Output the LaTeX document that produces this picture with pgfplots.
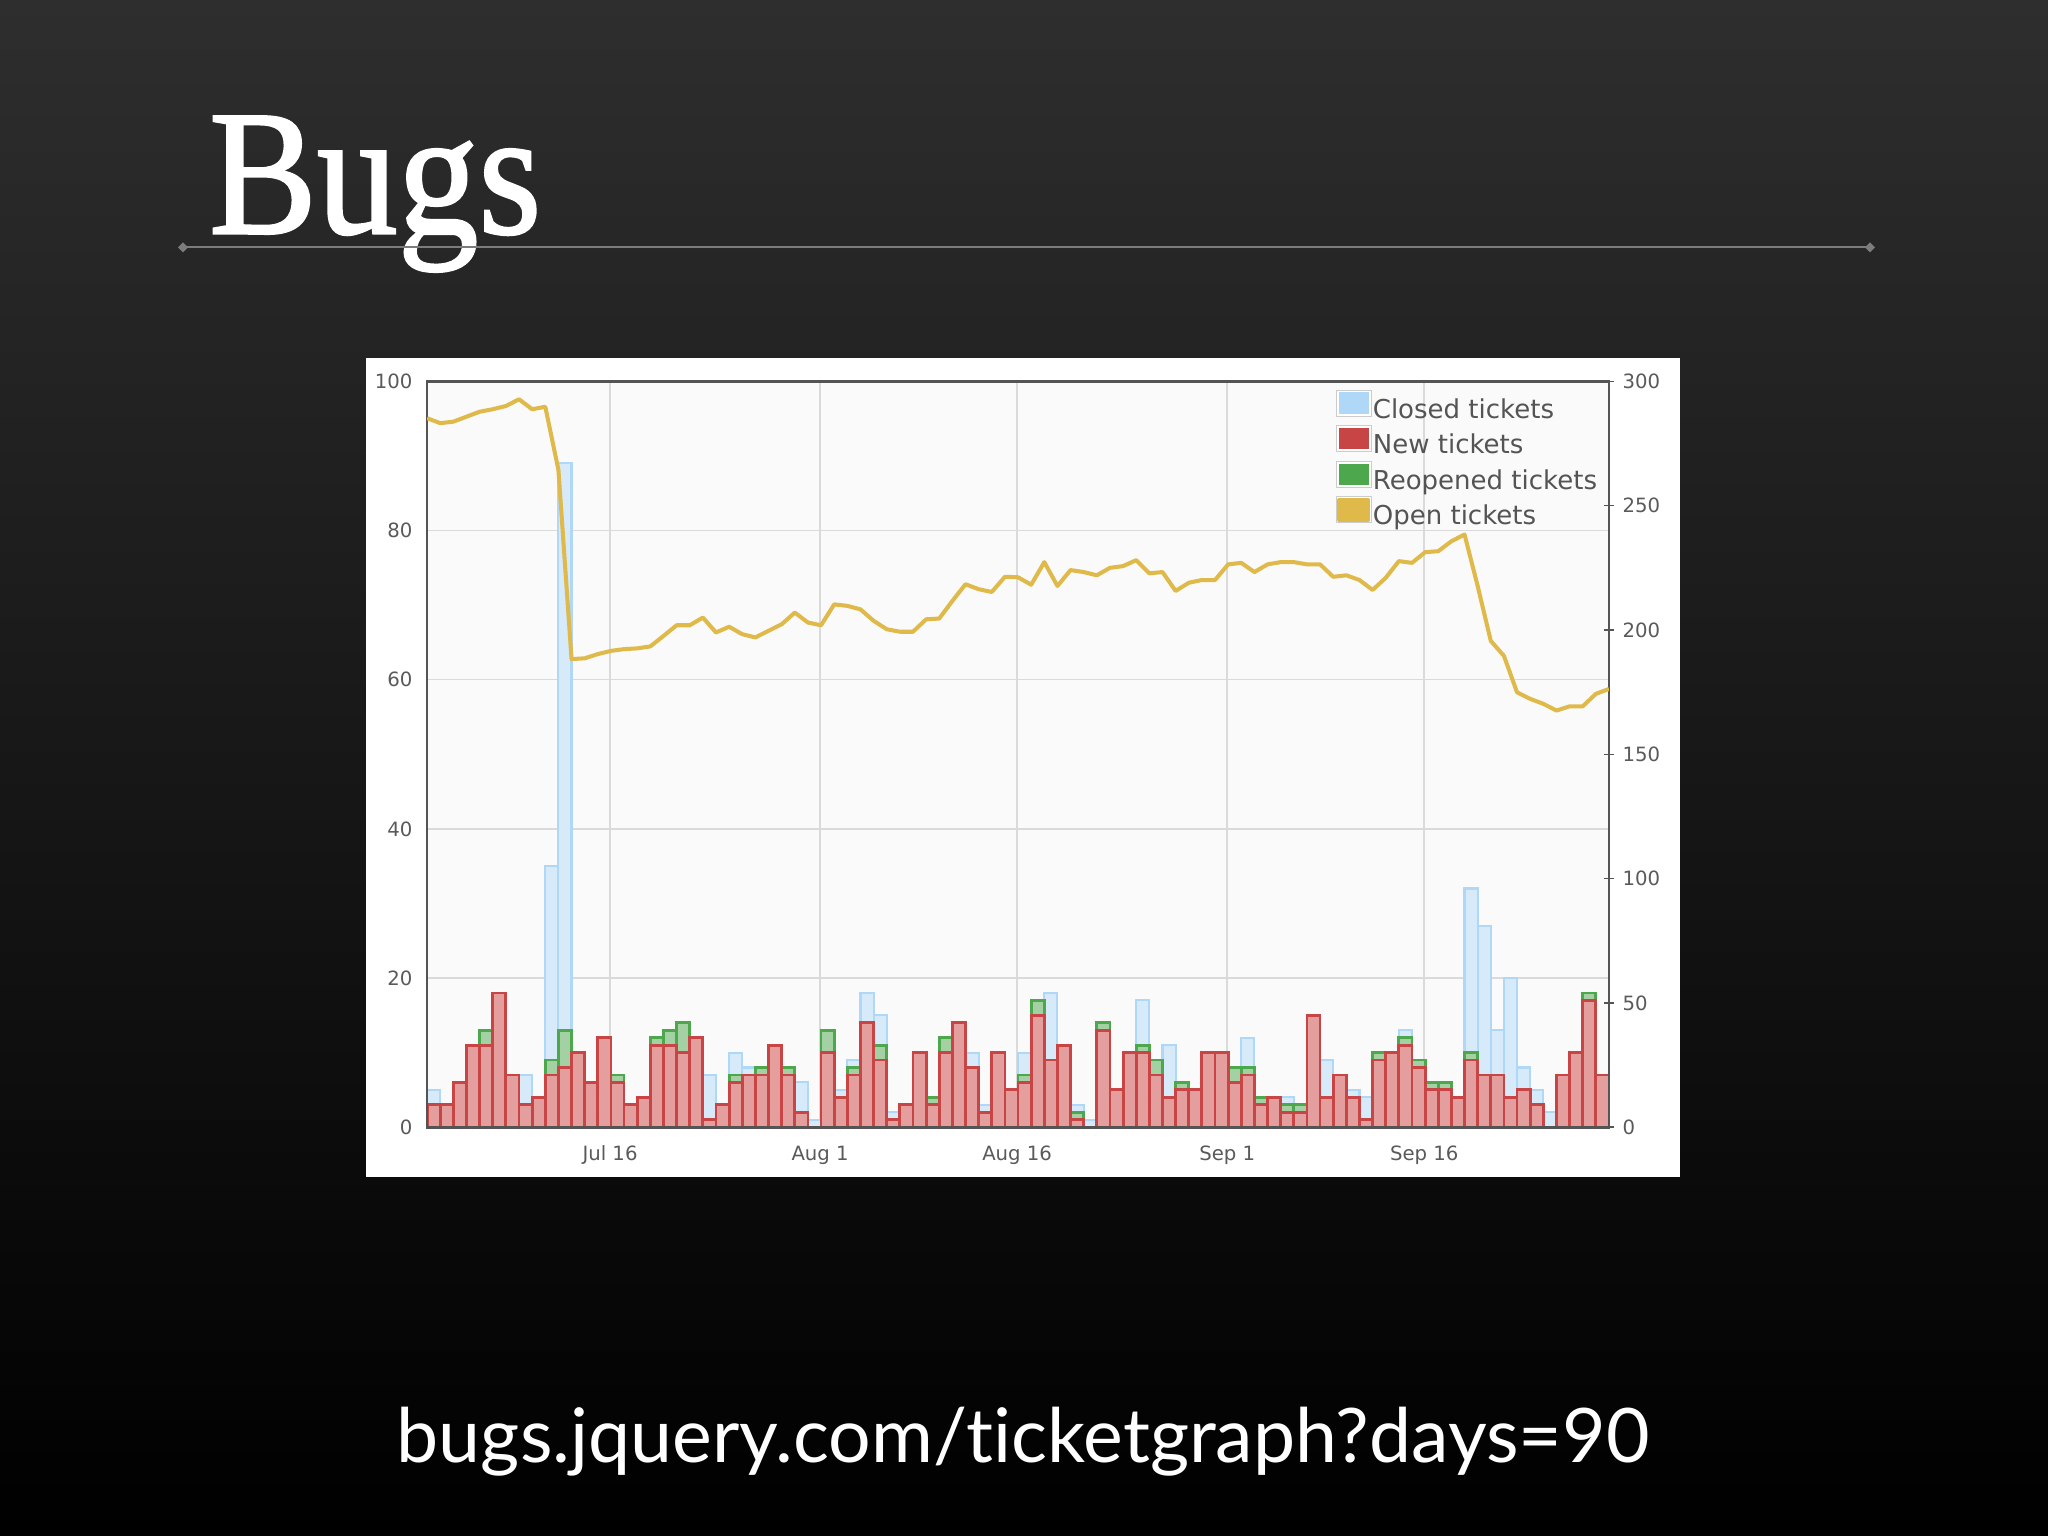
\documentclass[border=0pt]{standalone}
\usepackage{pgfplots}
\usepackage{pgfplotstable}
\pgfplotsset{compat=1.18}
\usepackage{fontspec}
\newfontfamily\tickfont{DejaVu Sans}
\newfontfamily\titlefont[FakeBold=1.4]{Liberation Serif}
\newfontfamily\urlfont[Ligatures={NoCommon}]{Lato}

\definecolor{bgtop}{HTML}{2E2E2E}
\definecolor{rulegray}{HTML}{7C7C7C}
\definecolor{plotbg}{HTML}{FAFAFA}
\definecolor{gridc}{HTML}{DADADA}
\definecolor{framec}{HTML}{545454}
\definecolor{tickc}{HTML}{5A5A5A}
\definecolor{closedc}{HTML}{AFD8F8}
\definecolor{closedfill}{HTML}{D6EAFA}
\definecolor{newc}{HTML}{C84545}
\definecolor{newfill}{HTML}{E49E9E}
\definecolor{reopc}{HTML}{4DA74D}
\definecolor{reopfill}{HTML}{A3D1A3}
\definecolor{openc}{HTML}{DFBA4A}
\definecolor{swatchb}{HTML}{CCCCCC}

% daily tickets: closed, new, new+reopened (stacked top)
\pgfplotstableread{
x    closed new top
0.5  5  3  3
1.5  2  3  3
2.5  4  6  6
3.5  9  11 11
4.5  6  11 13
5.5  10 18 18
6.5  4  7  7
7.5  7  3  3
8.5  3  4  4
9.5  35 7  9
10.5 89 8  13
11.5 5  10 10
12.5 5  6  6
13.5 8  12 12
14.5 4  6  7
15.5 2  3  3
16.5 3  4  4
17.5 7  11 12
18.5 8  11 13
19.5 9  10 14
20.5 9  12 12
21.5 7  1  1
22.5 2  3  3
23.5 10 6  7
24.5 8  7  7
25.5 6  7  8
26.5 8  11 11
27.5 5  7  8
28.5 6  2  2
29.5 1  0  0
30.5 5  10 13
31.5 5  4  4
32.5 9  7  8
33.5 18 14 14
34.5 15 9  11
35.5 2  1  1
36.5 2  3  3
37.5 5  10 10
38.5 2  3  4
39.5 5  10 12
40.5 7  14 14
41.5 10 8  8
42.5 3  2  2
43.5 6  10 10
44.5 4  5  5
45.5 10 6  7
46.5 9  15 17
47.5 18 9  9
48.5 6  11 11
49.5 3  1  2
50.5 1  0  0
51.5 8  13 14
52.5 3  5  5
53.5 6  10 10
54.5 17 10 11
55.5 5  7  9
56.5 11 4  4
57.5 3  5  6
58.5 3  5  5
59.5 4  10 10
60.5 4  10 10
61.5 5  6  8
62.5 12 7  8
63.5 2  3  4
64.5 3  4  4
65.5 4  2  3
66.5 2  2  3
67.5 7  15 15
68.5 9  4  4
69.5 6  7  7
70.5 5  4  4
71.5 4  1  1
72.5 4  9  10
73.5 5  10 10
74.5 13 11 12
75.5 5  8  9
76.5 3  5  6
77.5 3  5  6
78.5 3  4  4
79.5 32 9  10
80.5 27 7  7
81.5 13 7  7
82.5 20 4  4
83.5 8  5  5
84.5 5  3  3
85.5 2  0  0
86.5 4  7  7
87.5 5  10 10
88.5 13 17 18
89.5 5  7  7
}\bars

% open tickets (right axis)
\pgfplotstableread{
t  open
0  285.2
1  283.2
2  283.8
3  285.8
4  287.8
5  288.8
6  290.1
7  292.8
8  288.8
9  289.8
10 264.4
11 188.3
12 188.6
13 190.3
14 191.6
15 192.3
16 192.6
17 193.4
18 197.6
19 201.9
20 201.9
21 205.0
22 199.0
23 201.3
24 198.3
25 197.0
26 199.7
27 202.3
28 207.0
29 203.0
30 201.9
31 210.3
32 209.7
33 208.3
34 203.7
35 200.3
36 199.3
37 199.3
38 204.3
39 204.6
40 211.7
41 218.4
42 216.4
43 215.3
44 221.4
45 221.2
46 218.2
47 227.3
48 217.7
49 224.1
50 223.3
51 222.0
52 225.0
53 225.7
54 228.1
55 222.8
56 223.3
57 215.7
58 219.0
59 220.1
60 220.1
61 226.4
62 227.0
63 223.3
64 226.4
65 227.3
66 227.3
67 226.4
68 226.4
69 221.4
70 222.0
71 220.1
72 216.1
73 221.0
74 227.7
75 227.0
76 231.3
77 231.7
78 235.7
79 238.4
80 217.7
81 195.6
82 189.6
83 174.9
84 172.3
85 170.3
86 167.6
87 169.3
88 169.3
89 174.3
90 176.3
}\openT

\pgfplotsset{
  slideaxis/.style={
    at={(4.271cm,4.088cm)}, anchor=south west,
    scale only axis, width=11.819cm, height=7.458cm,
    xmin=0, xmax=90, ymin=0,
    ticklabel style={font=\tickfont\fontsize{5.6}{6}\selectfont, text=tickc},
    /pgf/number format/assume math mode=true,
  },
  swatch/.style={legend image code/.code={
    \draw[swatchb, fill=white, line width=0.3pt] (0cm,-0.05cm) rectangle (0.35cm,0.21cm);
    \fill[#1] (0.03cm,-0.02cm) rectangle (0.32cm,0.18cm);}},
}

\begin{document}
\begin{tikzpicture}
\shade[top color=bgtop, bottom color=black] (0,0) rectangle (20.48,15.36);

% title and rule
\node[anchor=base west, inner sep=0pt, text=white, xscale=0.905,
      font=\titlefont\fontsize{50.8}{52}\selectfont] at (2.085,13.027) {Bugs};
\draw[rulegray, line width=0.45pt] (1.83,12.887) -- (18.70,12.887);
\fill[rulegray] (1.83,12.887) +(-0.05,0) -- +(0,0.05) -- +(0.05,0) -- +(0,-0.05) -- cycle;
\fill[rulegray] (18.70,12.887) +(-0.05,0) -- +(0,0.05) -- +(0.05,0) -- +(0,-0.05) -- cycle;

% chart panel
\fill[white] (3.66,3.59) rectangle (16.80,11.78);

\begin{axis}[slideaxis,
    ymax=100,
    axis background/.style={fill=plotbg},
    axis line style={draw=none},
    xtick={13.93,29.93,44.93,60.93,75.93},
    xticklabels={Jul 16,Aug 1,Aug 16,Sep 1,Sep 16},
    ytick={0,20,...,100},
    major tick length=0pt,
    grid=major, major grid style={gridc, line width=0.45pt},
    xticklabel style={anchor=north, inner sep=0pt, yshift=-0.18cm},
    yticklabel style={anchor=east, inner sep=0pt, xshift=-0.14cm},
]
\addplot[ybar, bar width=1, bar shift=0pt, draw=closedc, fill=closedfill, line width=0.6pt]
  table[x=x, y=closed]{\bars};
\addplot[ybar, bar width=1, bar shift=0pt, draw=reopc, fill=reopfill, line width=0.8pt]
  table[x=x, y=top]{\bars};
\addplot[ybar, bar width=1, bar shift=0pt, draw=newc, fill=newfill, line width=0.8pt]
  table[x=x, y=new]{\bars};
\end{axis}

\begin{axis}[slideaxis,
    ymax=300,
    xtick=\empty,
    ytick={0,50,...,300},
    ytick pos=right, yticklabel pos=right,
    tick align=center, major tick length=0.1cm,
    tick style={framec, line width=0.4pt},
    axis line style={framec, line width=0.77pt},
    yticklabel style={anchor=west, inner sep=0pt, xshift=0.08cm},
    legend cell align=left,
    legend style={at={(0.9905,0.99)}, anchor=north east, draw=none, fill=none,
      font=\tickfont\fontsize{7.4}{8}\selectfont, text=framec,
      row sep=0pt, column sep=0.01cm, inner sep=0pt,
      nodes={inner sep=0pt, text height=0.19cm, text depth=0.05cm, minimum height=0.282cm}},
]
\addlegendimage{swatch=closedc}
\addlegendimage{swatch=newc}
\addlegendimage{swatch=reopc}
\addplot[openc, line width=1.15pt, line join=round, swatch=openc]
  table[x=t, y=open]{\openT};
\legend{Closed tickets,New tickets,Reopened tickets,Open tickets}
\end{axis}

\node[anchor=base, inner sep=0pt, text=white,
      font=\urlfont\fontsize{21.4}{22}\selectfont] at (10.23,0.73) {bugs.jquery.com/ticketgraph?days=90};

\pgfresetboundingbox
\useasboundingbox (0,0) rectangle (20.48,15.36);
\end{tikzpicture}
\end{document}
